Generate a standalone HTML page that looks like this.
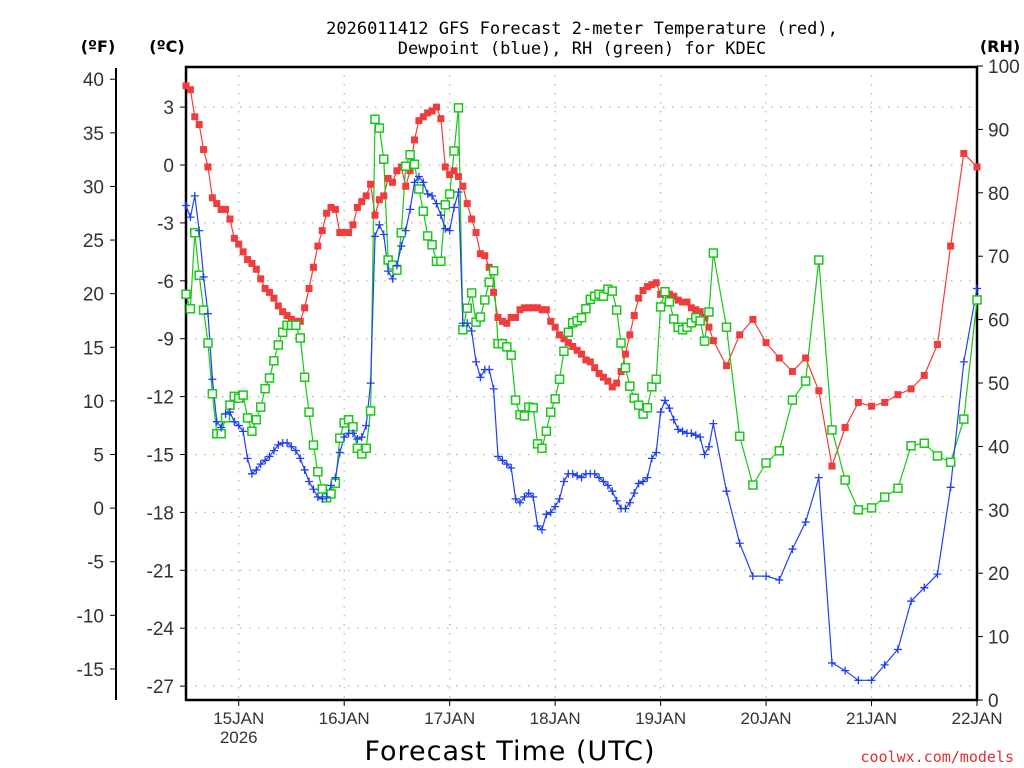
<!DOCTYPE html>
<html><head><meta charset="utf-8"><style>
html,body{margin:0;padding:0;background:#fff;width:1024px;height:768px;overflow:hidden}
svg{display:block;font-family:"Liberation Sans","DejaVu Sans",sans-serif}
</style></head><body>
<svg id="chart" width="1024" height="768" viewBox="0 0 1024 768">
<g id="grid"></g>
<g id="axes"></g>
<g id="series"></g>
<text x="582" y="34" font-size="17" text-anchor="middle" fill="#000" font-family="DejaVu Sans Mono, Liberation Mono, monospace">2026011412 GFS Forecast 2-meter Temperature (red),</text>
<text x="582" y="54" font-size="17" text-anchor="middle" fill="#000" font-family="DejaVu Sans Mono, Liberation Mono, monospace">Dewpoint (blue), RH (green) for KDEC</text>
<text x="98" y="52" font-size="16" font-weight="bold" text-anchor="middle" font-family="DejaVu Sans, sans-serif">(ºF)</text>
<text x="167" y="52" font-size="16" font-weight="bold" text-anchor="middle" font-family="DejaVu Sans, sans-serif">(ºC)</text>
<text x="1000" y="52" font-size="16" font-weight="bold" text-anchor="middle" font-family="DejaVu Sans, sans-serif">(RH)</text>
<text x="510" y="760" font-size="27" text-anchor="middle" letter-spacing="1" font-family="DejaVu Sans, sans-serif">Forecast Time (UTC)</text>
<text x="1014" y="762" font-size="15" text-anchor="end" fill="#e03030" font-family="DejaVu Sans Mono, Liberation Mono, monospace">coolwx.com/models</text>
</svg>
<script>
const dayLabels=["15JAN","16JAN","17JAN","18JAN","19JAN","20JAN","21JAN","22JAN"];
const dayHours=[12,36,60,84,108,132,156,180];
const cTicks=[3,0,-3,-6,-9,-12,-15,-18,-21,-24,-27];
const fTicks=[40,35,30,25,20,15,10,5,0,-5,-10,-15];
const rhTicks=[0,10,20,30,40,50,60,70,80,90,100];
const temp=[4.1,3.9,2.5,2.1,0.8,-0.1,-1.7,-2.0,-2.3,-2.3,-2.8,-3.8,-4.1,-4.5,-4.9,-5.1,-5.4,-5.9,-6.4,-6.6,-6.9,-7.3,-7.6,-7.8,-8.0,-8.1,-8.1,-7.4,-6.4,-5.3,-4.2,-3.4,-2.5,-2.2,-2.3,-3.5,-3.5,-3.5,-3.1,-2.2,-1.9,-1.6,-1.0,-2.6,-1.8,-1.6,-0.7,-0.9,-0.3,-0.1,-1.1,-0.3,1.3,2.3,2.5,2.7,2.8,3.0,2.4,-0.1,-0.5,-0.3,-0.6,-1.1,-2.0,-2.8,-3.5,-4.6,-4.7,-5.3,-6.6,-7.9,-8.1,-8.2,-7.9,-7.9,-7.5,-7.4,-7.4,-7.4,-7.4,-7.5,-7.5,-8.1,-8.4,-8.8,-9.0,-9.2,-9.4,-9.6,-9.8,-10.1,-10.2,-10.5,-10.8,-11.0,-11.2,-11.5,-11.3,-10.7,-9.8,-8.8,-7.8,-6.9,-6.5,-6.3,-6.2,-6.1,-6.7,-6.6,-6.7,-6.8,-7.0,-7.1,-7.1,-7.4,-7.5,-7.6,-7.9,-8.4,-9.1,
-10.4,-8.8,-8.0,-9.2,-10.0,-10.7,-10.0,-11.7,-15.6,-13.6,-12.3,-12.5,-12.3,-11.9,-11.6,-10.9,-9.3,-4.2,0.6,-0.1];
const dewp=[-2.1,-2.7,-1.6,-3.4,-5.8,-7.7,-11.1,-13.3,-13.6,-12.9,-12.8,-13.3,-13.5,-13.8,-15.2,-16.0,-15.8,-15.5,-15.3,-15.1,-14.8,-14.5,-14.4,-14.4,-14.6,-14.8,-15.2,-15.8,-16.4,-16.8,-17.2,-17.3,-17.2,-16.6,-16.2,-14.9,-14.1,-13.9,-13.9,-14.2,-14.1,-13.5,-11.3,-3.7,-3.1,-3.6,-5.5,-5.9,-5.2,-4.2,-3.4,-2.3,-0.9,-0.6,-0.9,-1.5,-1.6,-2.0,-2.6,-3.3,-3.4,-2.2,-1.4,-8.2,-8.2,-8.6,-10.2,-11.0,-10.6,-10.6,-11.6,-15.1,-15.3,-15.5,-15.7,-17.3,-17.5,-17.2,-17.0,-17.2,-18.7,-18.9,-18.1,-18.0,-17.7,-17.3,-16.4,-16.0,-16.0,-16.1,-16.2,-16.0,-16.0,-16.0,-16.2,-16.4,-16.6,-16.9,-17.4,-17.8,-17.8,-17.5,-17.0,-16.5,-16.4,-16.2,-15.2,-14.9,-12.8,-12.2,-12.6,-13.2,-13.7,-13.8,-13.9,-13.9,-14.0,-14.1,-15.0,-14.6,-13.4,
-16.9,-19.6,-21.3,-21.3,-21.5,-19.9,-18.5,-16.2,-25.8,-26.2,-26.7,-26.7,-25.9,-25.1,-22.6,-21.9,-21.2,-16.7,-10.2,-6.4];
const rh=[64.0,61.7,73.7,67.0,61.5,56.3,48.3,42.0,42.0,44.5,46.5,47.9,47.6,48.1,44.5,42.4,44.2,46.2,49.1,50.8,53.5,56.0,58.0,59.1,59.1,59.1,57.1,50.9,45.4,40.2,36.0,33.3,31.9,32.5,34.2,41.3,43.7,44.2,43.1,39.7,38.8,39.7,45.6,91.6,90.2,85.3,69.4,68.6,67.8,73.7,84.2,86.0,84.5,80.6,77.1,73.2,71.8,69.2,69.2,78.1,79.8,86.6,93.4,58.4,61.8,64.2,59.6,60.4,63.1,65.9,67.7,56.2,56.2,55.7,54.4,47.3,45.0,44.8,46.2,46.1,40.4,39.7,42.4,45.4,47.5,50.6,55.0,58.0,59.5,59.8,60.3,61.7,63.2,63.7,64.0,63.7,64.8,64.5,61.5,56.3,52.4,49.5,47.6,46.5,45.1,46.1,49.4,50.6,62.0,64.4,62.8,60.1,58.8,58.4,58.8,59.5,60.3,59.8,56.6,61.2,70.5,
58.8,41.6,33.9,37.4,39.3,47.3,50.3,69.4,42.6,34.7,30.0,30.3,32.0,33.4,40.1,40.5,38.5,37.5,44.3,63.1];
const hours=[];for(let h=0;h<=120;h++)hours.push(h);for(let h=123;h<=180;h+=3)hours.push(h);

const X0=186,X1=977,Y0=66,Y1=700;
const xS=h=>X0+(X1-X0)*h/180;
const cY=c=>165-c*19.3;
const fY=f=>cY((f-32)/1.8);
const rhY=r=>Y1-(Y1-Y0)*r/100;
const NS="http://www.w3.org/2000/svg";
function mk(tag,attrs,parent){const e=document.createElementNS(NS,tag);for(const k in attrs)e.setAttribute(k,attrs[k]);parent.appendChild(e);return e;}
const grid=document.getElementById('grid'),axes=document.getElementById('axes'),ser=document.getElementById('series');
const dash={stroke:"#b0b0b0","stroke-width":1.2,"stroke-dasharray":"1.5 7.5"};
cTicks.forEach(c=>{const y=cY(c);
 const g=mk('line',Object.assign({x1:X0,x2:X1,y1:y,y2:y},dash),grid);
 
 
 mk('line',{x1:180,x2:X0,y1:y,y2:y,stroke:"#000"},axes);
 const t=mk('text',{x:174,y:y+7,"font-size":19,"text-anchor":"end",fill:"#333"},axes);t.textContent=c;
 
 
});
dayHours.forEach((h,i)=>{const x=xS(h);
 if(h<180){const g=mk('line',Object.assign({x1:x,x2:x,y1:Y0,y2:Y1},dash),grid);
 
 }
 mk('line',{x1:x,x2:x,y1:Y1,y2:Y1+6,stroke:"#000"},axes);
 const t=mk('text',{x:x,y:724,"font-size":17,"text-anchor":"middle",fill:"#333"},axes);t.textContent=dayLabels[i];
 
 
});
const yr=mk('text',{x:xS(12),y:743,"font-size":17,"text-anchor":"middle",fill:"#333"},axes);yr.textContent="2026";


mk('line',{x1:116,x2:116,y1:68,y2:700,stroke:"#000","stroke-width":2},axes);
fTicks.forEach(f=>{const y=fY(f);
 mk('line',{x1:110,x2:116,y1:y,y2:y,stroke:"#000"},axes);
 const t=mk('text',{x:104,y:y+7,"font-size":19,"text-anchor":"end",fill:"#333"},axes);t.textContent=f;
 
 
});
rhTicks.forEach(r=>{const y=rhY(r);
 mk('line',{x1:X1,x2:X1+6,y1:y,y2:y,stroke:"#000"},axes);
 const t=mk('text',{x:988,y:y+7,"font-size":19,"text-anchor":"start",fill:"#333"},axes);t.textContent=r;
 
 
});
const frame=mk('rect',{x:X0,y:Y0+1,width:X1-X0,height:Y1-Y0-1,fill:"none",stroke:"#000","stroke-width":2.5},axes);



function line(vals,yf,color,name){
 const pts=vals.map((v,i)=>xS(hours[i]).toFixed(1)+","+yf(v).toFixed(1)).join(" ");
 const p=mk('polyline',{points:pts,fill:"none",stroke:color,"stroke-width":1.2},ser);
 
 
}
line(temp,cY,"#f03c3c","temperature-line");
line(rh,rhY,"#18c818","rh-line");
line(dewp,cY,"#2040f0","dewpoint-line");
const gT=mk('g',{},ser);
temp.forEach((v,i)=>{const m=mk('rect',{x:xS(hours[i])-3.5,y:cY(v)-3.5,width:7,height:7,fill:"#f03c3c"},gT);
 
 });
const gR=mk('g',{},ser);
rh.forEach((v,i)=>{const m=mk('rect',{x:xS(hours[i])-4,y:rhY(v)-4,width:8,height:8,fill:"#fff",stroke:"#18c818","stroke-width":1.5},gR);
 
 });
const gD=mk('g',{},ser);
dewp.forEach((v,i)=>{const x=xS(hours[i]),y=cY(v);
 const m=mk('path',{d:`M${x-4} ${y}H${x+4}M${x} ${y-4}V${y+4}`,stroke:"#2040f0","stroke-width":1.3,fill:"none"},gD);
 
 });
</script>
</body></html>
